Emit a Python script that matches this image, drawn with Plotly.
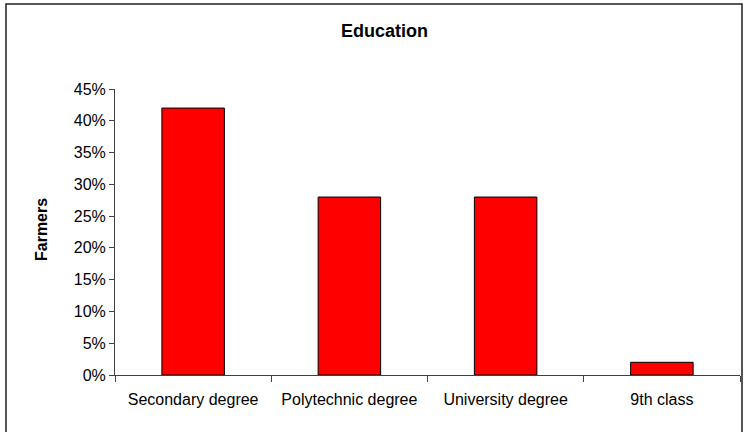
import plotly.graph_objects as go

# Share of farmers by education level
categories = ["Secondary degree", "Polytechnic degree", "University degree", "9th class"]
shares = [0.42, 0.28, 0.28, 0.02]
y_ticks = [0, 0.05, 0.10, 0.15, 0.20, 0.25, 0.30, 0.35, 0.40, 0.45]

W, H = 748, 432
ML, MR, MT, MB = 115, 8, 89, 57
PW, PH = W - ML - MR, H - MT - MB


def px_x(x):
    return (x - ML) / PW


def px_y(y):
    return (H - MB - y) / PH


FONT = "Liberation Sans, Arial, sans-serif"
AXIS = "#404040"

fig = go.Figure(
    go.Bar(
        x=categories,
        y=shares,
        marker=dict(color="#ff0000", line=dict(color="#000000", width=1)),
        hoverinfo="skip",
    )
)

fig.update_layout(
    width=W,
    height=H,
    margin=dict(l=ML, r=MR, t=MT, b=MB),
    paper_bgcolor="#ffffff",
    plot_bgcolor="#ffffff",
    bargap=0.6,
    showlegend=False,
    font=dict(family=FONT, color="#000000", size=15),
)

fig.update_xaxes(
    showgrid=False,
    showline=True,
    linecolor=AXIS,
    linewidth=1,
    ticks="outside",
    tickson="boundaries",
    ticklen=6,
    tickcolor=AXIS,
    ticklabelstandoff=10,
    tickfont=dict(size=16),
)

fig.update_yaxes(
    range=[0, 0.45],
    tickvals=y_ticks,
    tickformat=".0%",
    showgrid=False,
    showline=True,
    linecolor=AXIS,
    linewidth=1,
    ticks="outside",
    ticklen=5,
    tickcolor=AXIS,
    tickfont=dict(size=16),
    zeroline=False,
)

# Chart title and vertical axis label
fig.add_annotation(
    text="<b>Education</b>", x=px_x(384), y=px_y(31), xref="paper", yref="paper",
    showarrow=False, font=dict(size=18), xanchor="center", yanchor="middle",
)
fig.add_annotation(
    text="<b>Farmers</b>", x=px_x(41), y=px_y(230), xref="paper", yref="paper",
    showarrow=False, textangle=-90, font=dict(size=16), xanchor="center", yanchor="middle",
)

# Outer chart frame
fig.add_shape(
    type="rect", xref="paper", yref="paper",
    x0=px_x(6), x1=px_x(742), y0=px_y(440), y1=px_y(4),
    line=dict(color="#202020", width=1.5), fillcolor="rgba(0,0,0,0)", layer="below",
)

fig.write_html("out.html")
